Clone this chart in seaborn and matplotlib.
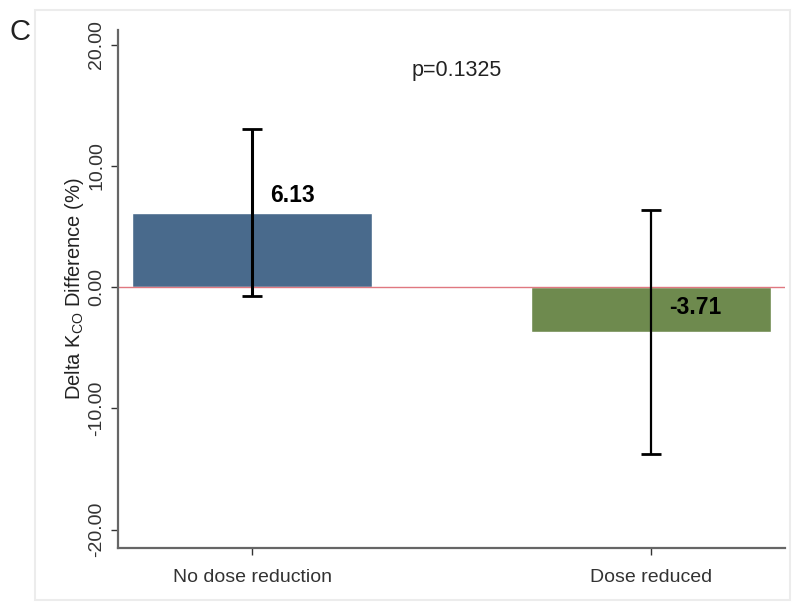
import numpy as np
import pandas as pd
import matplotlib
matplotlib.use('Agg')
import matplotlib.pyplot as plt
import seaborn as sns
from matplotlib.patches import Rectangle

# Dados
groups = ['No dose reduction', 'Dose reduced']
means = [6.13, -3.71]
ci_low = [-0.74, -13.76]
ci_high = [13.00, 6.34]
bar_colors = ['#496a8c', '#6e8a4e']
p_text = 'p=0.1325'

sns.set_style('white')
plt.rcParams['font.family'] = ['Liberation Sans', 'DejaVu Sans']

df = pd.DataFrame({'grupo': groups, 'media': means})

fig = plt.figure(figsize=(7.94, 6.08), dpi=100)
fig.patches.append(Rectangle((0.044, 0.013), 0.951, 0.971, transform=fig.transFigure,
                             facecolor='white', edgecolor='#ececec', linewidth=1.5, zorder=-10))
ax = fig.add_axes([0.1486, 0.0987, 0.84, 0.852])
ax.set_facecolor('none')
ax.set_zorder(2)

sns.barplot(data=df, x='grupo', y='media', hue='grupo', palette=bar_colors,
            width=0.6, legend=False, errorbar=None, ax=ax, saturation=1)

# linha zero
ax.axhline(0, color='#e07880', linewidth=1.0, zorder=1)

# barras de erro
yerr = np.array([[m - lo for m, lo in zip(means, ci_low)],
                 [hi - m for m, hi in zip(means, ci_high)]])
for i in range(len(groups)):
    ax.errorbar(i, means[i], yerr=yerr[:, i:i+1], fmt='none', ecolor='black',
                elinewidth=2.2 if i == 0 else 1.6, capsize=7, capthick=2, zorder=5)

# rótulos dos valores
for i, m in enumerate(means):
    ypos = m + 1.45 if m > 0 else m / 2 + 0.2
    ax.text(i + 0.045, ypos, f'{m:.2f}', ha='left', va='center',
            fontsize=16.5, fontweight='bold', color='black', zorder=6)

ax.text(0.514, 17.9, p_text, ha='center', va='center', fontsize=15.5, color='#222222')

ax.set_xlim(-0.336, 1.336)
ax.set_ylim(-21.5, 21.2)
ax.set_yticks([-20, -10, 0, 10, 20])
ax.set_yticklabels([f'{v:.2f}' for v in [-20, -10, 0, 10, 20]], rotation=90, va='center')
ax.tick_params(axis='both', labelsize=14, colors='#333333', length=5, width=1,
               direction='out', left=True, bottom=True)
ax.tick_params(axis='x', pad=10)
ax.tick_params(axis='y', pad=4)
ax.set_xlabel('')
ax.set_ylabel(r'Delta K$_{\mathregular{CO}}$ Difference (%)', fontsize=14.5, color='#222222', labelpad=2)

for s in ['top', 'right']:
    ax.spines[s].set_visible(False)
for s in ['left', 'bottom']:
    ax.spines[s].set_color('#666666')
    ax.spines[s].set_linewidth(1.6)

fig.text(0.012, 0.947, 'C', fontsize=21, color='#222222', ha='left', va='center')

plt.savefig('out.png', dpi=100)
plt.close()
